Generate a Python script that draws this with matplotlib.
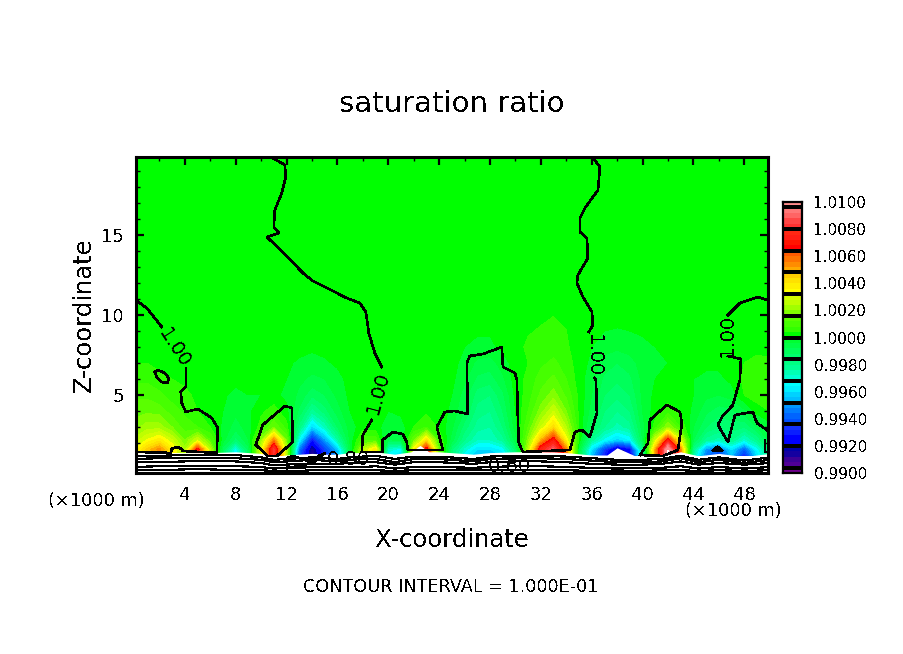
import numpy as np
import matplotlib
matplotlib.use("Agg")
import matplotlib.pyplot as plt
from matplotlib.colors import ListedColormap, BoundaryNorm

"""
Saturation ratio cross section with a terrain-following contour band
"""

plt.rcParams['font.family'] = ['DejaVu Sans']
plt.rcParams['text.antialiased'] = False

TITLE = "saturation ratio"
X_LABEL = "X-coordinate"
Z_LABEL = "Z-coordinate"
FOOTER = "CONTOUR INTERVAL = 1.000E-01"
UNIT_LABEL = "(\u00d71000 m)"

X_TICKS = [4, 8, 12, 16, 20, 24, 28, 32, 36, 40, 44, 48]
Z_TICKS = [5, 10, 15]
BAR_TICKS = [0.9900, 0.9920, 0.9940, 0.9960, 0.9980, 1.0000,
             1.0020, 1.0040, 1.0060, 1.0080, 1.0100]

FIELD_X = list(range(51))
FIELD_Z = [1.2, 1.6, 2.2, 3, 4, 5, 6, 7, 8, 10, 20]
row_z12 = [28, 40, 50, 36, 20, 58, 24, -10, -40, -10, 30, 80, 25, -60, -90, -70, -50, -5, 28, 38, -35, -40, 35, 75, 15,
           -15, -35, -45, -45, -40, -18, 25, 76, 92, 58, -5, -45, -70, -90, -80, -25, 50, 105, 58, -25, -55, -65, -45,
           -70, -40, -18]
row_z16 = [32, 45, 54, 38, 22, 70, 25, -10, -35, -10, 30, 82, 25, -55, -88, -65, -45, -5, 25, 40, -30, -35, 35, 72, 15,
           -15, -30, -40, -40, -35, -15, 25, 74, 90, 55, -5, -40, -65, -85, -75, -20, 50, 105, 55, -20, -50, -60, -40,
           -60, -35, -15]
row_z22 = [25, 32, 38, 28, 16, 28, 12, -2, -14, -4, 20, 55, 16, -35, -72, -50, -25, -3, 10, 10, -8, -6, 15, 40, 8,
           -6, -20, -28, -28, -22, -6, 18, 48, 70, 35, 3, -22, -34, -42, -36, -8, 28, 70, 30, -8, -22, -26, -20,
           -30, -20, -6]
row_z30 = [18, 22, 22, 16, 10, 8, 4, -1, -6, -2, 6, 16, 6, -18, -42, -28, -12, -2, 2, 2, -3, -2, 4, 8, 3,
           -3, -14, -22, -24, -16, -2, 12, 28, 42, 24, 4, -10, -20, -26, -22, -6, 6, 20, 8, -4, -12, -16, -14,
           -16, -8, -2]
row_z40 = [14, 15, 14, 10, 7, 4, 2, 0, -3, -1, 3, 6, 1, -9, -22, -14, -6, 0, 2, 2, 0, 1, 2, 3, 2,
           -1, -8, -18, -20, -12, 0, 8, 18, 28, 16, 3, -6, -16, -20, -16, -4, 2, 6, 3, -1, -7, -10, -9,
           -5, 2, 4]
row_z50 = [11, 11, 9, 6, 5, 3, 2, 1, -2, 0, 0, 1, -1, -5, -11, -8, -3, 1, 2, 2, 2, 2, 2, 2, 1,
           0, -6, -14, -16, -9, 1, 6, 13, 18, 11, 3, -4, -12, -15, -12, -3, 1, 2, 2, 0, -3, -4, -2,
           4, 6, 7]
row_z60 = [7, 7, 5, 4, 3, 2, 2, 2, 2, 2, 2, 1, 0, -3, -5, -4, -2, 2, 2, 2, 2, 2, 2, 2, 1,
           1, -3, -9, -10, -5, 2, 5, 10, 13, 8, 2, -3, -9, -11, -9, -3, 0, 1, 1, 0, -1, -1, 1,
           5, 7, 7]
row_z70 = [4, 4, 3, 3, 2, 2, 2, 2, 2, 2, 2, 2, 1, -1, -2, -1, 1, 2, 2, 2, 2, 2, 2, 2, 2,
           1, -1, -5, -6, -2, 2, 4, 7, 9, 6, 2, -1, -6, -8, -6, -2, -1, 0, 1, 1, 1, 1, 2,
           4, 5, 5]
row_z80 = [2, 2, 2, 2, 2, 2, 2, 2, 2, 2, 2, 2, 2, 2, 1, 2, 2, 2, 2, 2, 2, 2, 2, 2, 2,
           2, 0, -1, -1, 1, 3, 4.5, 5, 6, 4.6, 2, 0, -2, -3, -2, -1, 0, 1, 2, 2, 2, 2, 2,
           2, 3, 2]
row_z100 = [2, 2, 2, 2, 2, 2, 2, 2, 2, 2, 2, 2, 2, 2, 2, 2, 2, 2, 2, 2, 2, 2, 2, 2, 2,
            2, 2, 2, 2, 2, 2, 3, 3.5, 3.9, 3.5, 2, 2, 2, 2, 2, 2, 2, 2, 2, 2, 2, 2, 2,
            2, 2, 2]
row_z200 = [2, 2, 2, 2, 2, 2, 2, 2, 2, 2, 2, 2, 2, 2, 2, 2, 2, 2, 2, 2, 2, 2, 2, 2, 2,
            2, 2, 2, 2, 2, 2, 2, 2, 2, 2, 2, 2, 2, 2, 2, 2, 2, 2, 2, 2, 2, 2, 2,
            2, 2, 2]

# top of the below-range (white) area
SURFACE_X = [0, 2, 4, 6, 8, 10, 11, 12, 13, 14, 15, 16, 17, 18, 19, 20.5, 21.8, 22.5, 23.2, 24, 26.7, 28, 30, 32, 34,
             36, 37.2, 38, 39.4, 40, 41.5, 43, 44.4, 46, 48, 50]
SURFACE_Z = [1.4, 1.4, 1.4, 1.4, 1.45, 1.35, 1.15, 1.25, 1.3, 1.35, 1.3, 1.3, 1.4, 1.4, 1.45, 1.3, 1.45, 1.85, 1.45,
             1.45, 1.3, 1.4, 1.45, 1.45, 1.4, 1.25, 1.25, 1.7, 1.2, 1.2, 1.2, 1.45, 1.2, 1.35, 1.15, 1.35]

# terrain-following contours of 0.9 and below
TERRAIN_X = [0, 2, 4, 6, 8, 10, 11, 12, 13, 14, 15, 16, 17, 18, 19, 20.5, 22, 24, 26.7, 28, 30, 32, 34, 36, 38, 40,
             41.5, 43, 44.4, 46, 48, 50]
terrain_1 = [1.2, 1.2, 1.25, 1.25, 1.25, 1.1, 0.95, 1.0, 1.05, 1.1, 1.05, 1.0, 1.1, 1.15, 1.2, 1.0, 1.15, 1.15, 1.0,
             1.15, 1.2, 1.2, 1.15, 1.05, 0.95, 0.95, 1.0, 1.2, 0.95, 1.1, 0.9, 1.1]
terrain_2 = [1.0, 1.05, 1.05, 1.05, 1.05, 0.95, 0.8, 0.85, 0.9, 0.95, 0.9, 0.85, 0.95, 1.0, 1.0, 0.8, 1.0, 1.0, 0.85,
             1.0, 1.05, 1.05, 1.0, 0.9, 0.8, 0.8, 0.85, 1.05, 0.8, 0.95, 0.75, 0.95]
terrain_3 = [0.8, 0.8, 0.85, 0.85, 0.85, 0.75, 0.6, 0.65, 0.7, 0.7, 0.7, 0.7, 0.75, 0.8, 0.8, 0.65, 0.8, 0.8, 0.7,
             0.8, 0.85, 0.85, 0.8, 0.7, 0.65, 0.65, 0.7, 0.85, 0.65, 0.75, 0.65, 0.75]
terrain_4 = [0.5, 0.55, 0.55, 0.55, 0.55, 0.5, 0.4, 0.45, 0.45, 0.5, 0.5, 0.5, 0.5, 0.5, 0.55, 0.4, 0.5, 0.5, 0.45,
             0.5, 0.55, 0.55, 0.5, 0.45, 0.4, 0.45, 0.45, 0.55, 0.4, 0.5, 0.4, 0.5]
terrain_5 = [0.3, 0.3, 0.35, 0.35, 0.3, 0.3, 0.25, 0.25, 0.25, 0.3, 0.3, 0.3, 0.3, 0.3, 0.3, 0.25, 0.3, 0.3, 0.3,
             0.3, 0.3, 0.3, 0.3, 0.25, 0.25, 0.25, 0.3, 0.3, 0.25, 0.3, 0.25, 0.3]

# the wiggly closed patch near x=12..15 in the terrain band
patch_x = [15, 14.6, 13.8, 13.05, 12.5, 12.02, 12.02, 12.0, 13.44, 14.2, 15]
patch_z = [1.3, 1.25, 0.81, 1.06, 1.19, 1.06, 0.31, 0.44, 0.63, 0.8, 1.37]

# 1.00 contour, one pair of lists per piece, gaps are where the labels sit
left_top_x = [0.22, 1.0, 2.19]
left_top_z = [10.88, 10.44, 9.25]
left_low_x = [4.08, 4.08, 3.68, 3.76, 4.08, 5.02, 6.12, 6.59, 6.51, 3.84, 3.76, 3.37, 2.97, 2.9, 0.22]
left_low_z = [6.69, 5.5, 5.19, 4.5, 3.94, 4.13, 3.56, 2.94, 1.38, 1.5, 1.63, 1.75, 1.63, 1.38, 1.44]
oval_x = [1.64, 1.87, 2.42, 2.74, 2.66, 2.19, 1.79, 1.64]
oval_z = [6.44, 6.56, 6.38, 6.06, 5.75, 5.81, 6.13, 6.44]
top_edge_x = [0.46, 3.5, 7.0, 10.92]
top_edge_z = [19.84, 19.8, 19.84, 19.81]
mid_top_x = [10.92, 11.87, 11.94, 11.63, 11.08, 11.0, 11.4, 10.45, 11.71, 13.28, 14.07, 16.74, 17.76, 18.24, 18.47,
             18.94, 19.49]
mid_top_z = [19.81, 19.38, 18.63, 17.63, 16.56, 15.5, 15.13, 14.88, 13.94, 12.63, 12.13, 11.06, 10.75, 10.19, 8.88,
             7.63, 6.75]
mid_low_x = [18.71, 18.0, 17.92, 19.57, 19.57, 20.36, 21.15, 21.46, 21.54, 24.3, 23.82, 24.45, 25.24, 26.26, 26.18,
             26.42, 27.44, 28.94, 29.02, 29.96, 30.12, 30.2, 30.27, 30.59, 34.29, 34.68, 35.23, 35.86, 36.41, 36.34,
             36.2]
mid_low_z = [3.44, 2.5, 1.44, 1.44, 2.19, 2.69, 2.56, 2.06, 1.56, 1.56, 3.0, 3.94, 4.0, 3.81, 7.0,
             7.44, 7.56, 8.0, 6.75, 6.38, 5.94, 3.44, 2.0, 1.44, 1.56, 2.69, 2.81, 2.38, 3.88, 5.94,
             6.06]
east_top_x = [35.47, 36.1, 36.65, 36.5, 35.47, 35.08, 35.08, 35.63, 35.7, 34.92, 34.84, 35.31, 36.02, 36.1, 35.78]
east_top_z = [19.88, 19.81, 19.25, 17.81, 16.69, 16.06, 15.19, 14.81, 13.56, 12.5, 12.0, 11.13, 10.19, 9.38, 8.94]
cell_11_x = [9.58, 10.13, 11.87, 12.42, 12.49, 11.24, 10.53, 9.58]
cell_11_z = [1.88, 3.13, 4.31, 4.19, 2.06, 1.19, 1.19, 1.88]
cell_41_x = [39.8, 40.43, 40.58, 41.92, 42.94, 43.1, 42.79, 41.6, 39.8]
cell_41_z = [1.25, 2.0, 3.44, 4.38, 3.94, 3.25, 1.56, 1.19, 1.25]
right_top_x = [49.78, 49.08, 47.66, 46.72]
right_top_z = [10.94, 11.13, 10.75, 10.0]
right_low_x = [46.72, 47.74, 47.66, 47.11, 46.25, 45.93, 46.72, 47.03, 47.27, 48.68, 49.0, 49.78]
right_low_z = [7.44, 7.25, 5.94, 4.38, 3.63, 3.13, 2.06, 3.0, 3.75, 3.94, 3.25, 2.81]
edge_x = [49.6, 49.6, 49.85]
edge_z = [2.19, 1.44, 1.44]
blob_x = [45.5, 45.9, 46.3, 45.5]
blob_z = [1.5, 1.78, 1.5, 1.5]

# colour table, 0.0004 per band, black separators every 4 bands
BAND_BOTTOM = ['#6e008c']
BAND_GROUPS = [
    ['#500096', '#3c0096', '#1400a0', '#0000aa'],
    ['#0000ff', '#0000ff', '#0a1eff', '#1432ff'],
    ['#0050ff', '#0064ff', '#007dff', '#0096ff'],
    ['#00beff', '#00d2ff', '#00f0ff', '#00ffff'],
    ['#00ffd2', '#00ffb4', '#00ff96', '#00ff82'],
    ['#00ff6e', '#00ff5a', '#00ff46', '#00ff32'],
    ['#00ff00', '#32ff00', '#46ff00', '#5aff00'],
    ['#82ff00', '#a0ff00', '#beff00', '#d2ff00'],
    ['#ffff00', '#fff000', '#ffe100', '#ffcd00'],
    ['#ffaa00', '#ff8c00', '#ff7300', '#ff5a00'],
    ['#ff0000', '#ff1400', '#ff1e14', '#ff2814'],
    ['#ff3232', '#ff4646', '#ff6464', '#ff7878'],
]
BAND_TOP = ['#ff8c8c']


def draw_field(ax, levels, cmap, norm):
    rows = np.array([row_z12, row_z16, row_z22, row_z30, row_z40, row_z50, row_z60, row_z70, row_z80, row_z100,
                     row_z200])
    ratio = 1.0 + rows / 1e4
    ax.contourf(FIELD_X, FIELD_Z, ratio, levels=levels, cmap=cmap, norm=norm)
    ax.fill_between(SURFACE_X, 0, SURFACE_Z, color='white', lw=0, zorder=2, antialiased=False)


def draw_contours(ax):
    pieces = [(left_top_x, left_top_z), (left_low_x, left_low_z), (oval_x, oval_z), (top_edge_x, top_edge_z),
              (mid_top_x, mid_top_z), (mid_low_x, mid_low_z), (east_top_x, east_top_z), (cell_11_x, cell_11_z),
              (cell_41_x, cell_41_z), (right_top_x, right_top_z), (right_low_x, right_low_z), (edge_x, edge_z)]
    for px, pz in pieces:
        ax.plot(px, pz, color='black', lw=1.15, zorder=3, antialiased=False)
    ax.fill(blob_x, blob_z, color='black', zorder=3, antialiased=False)
    ax.plot(patch_x, patch_z, color='black', lw=0.9, zorder=3, antialiased=False)
    for line in [terrain_1, terrain_2, terrain_3, terrain_4, terrain_5]:
        ax.plot(TERRAIN_X, line, color='black', lw=0.85, zorder=3, antialiased=False)

    label_size = 14
    ax.text(3.2, 7.94, "1.00", rotation=-57, fontsize=label_size, ha='center', va='center', zorder=4)
    ax.text(19.18, 5.13, "1.00", rotation=75, fontsize=label_size, ha='center', va='center', zorder=4)
    ax.text(36.1, 7.44, "1.00", rotation=-90, fontsize=label_size, ha='center', va='center', zorder=4)
    ax.text(46.64, 8.75, "1.00", rotation=90, fontsize=label_size, ha='center', va='center', zorder=4)
    ax.text(16.83, 0.94, "0.80", fontsize=label_size, ha='center', va='center', zorder=4)
    ax.text(29.5, 0.5, "0.60", fontsize=label_size, ha='center', va='center', zorder=4)


def style_axes(ax):
    ax.set_xlim(0.2, 49.87)
    ax.set_ylim(0.125, 19.875)
    ax.set_xticks(X_TICKS)
    ax.set_xticks(np.arange(2, 50, 4), minor=True)
    ax.set_yticks(Z_TICKS)
    ax.set_yticks([z for z in range(1, 20) if z not in Z_TICKS], minor=True)
    ax.tick_params(which='major', direction='in', length=6, width=1.6, top=True, right=True,
                   labelsize=13, pad=9)
    ax.tick_params(which='minor', direction='in', length=3, width=1, top=True, right=True)
    for spine in ax.spines.values():
        spine.set_linewidth(2.2)
        spine.set_zorder(5)


def draw_colorbar(fig, levels, cmap, norm):
    cax = fig.add_axes([783.5 / 904, 1 - 473 / 654, 19 / 904, 271 / 654])
    mids = (np.array(levels[:-1]) + np.array(levels[1:])) / 2
    cax.pcolormesh([0, 1], levels, mids.reshape(-1, 1), cmap=cmap, norm=norm)
    cax.hlines(levels[1::4], 0, 1, color='black', lw=1.6, antialiased=False)
    cax.set_xlim(0, 1)
    cax.set_ylim(levels[0], levels[-1])
    cax.set_xticks([])
    cax.yaxis.tick_right()
    cax.set_yticks(BAR_TICKS)
    cax.set_yticklabels([f'{v:.4f}' for v in BAR_TICKS])
    cax.tick_params(axis='y', length=0, labelsize=11, pad=8)
    for spine in cax.spines.values():
        spine.set_linewidth(1.6)


def main():
    colors = BAND_BOTTOM + [c for group in BAND_GROUPS for c in group] + BAND_TOP
    levels = [0.99 + 0.0004 * i for i in range(len(colors) + 1)]
    cmap = ListedColormap(colors)
    norm = BoundaryNorm(levels, cmap.N)

    fig = plt.figure(figsize=(9.04, 6.54), dpi=100)
    ax = fig.add_axes([136.5 / 904, 1 - 473 / 654, 631.5 / 904, 316 / 654])

    draw_field(ax, levels, cmap, norm)
    draw_contours(ax)
    style_axes(ax)
    draw_colorbar(fig, levels, cmap, norm)

    fig.text(452 / 904, 1 - 104 / 654, TITLE, fontsize=21, ha='center', va='center')
    fig.text(452 / 904, 1 - 540 / 654, X_LABEL, fontsize=17.5, ha='center', va='center')
    fig.text(84 / 904, 1 - 315 / 654, Z_LABEL, fontsize=17.5, rotation=90, ha='center', va='center')
    fig.text(96 / 904, 1 - 501 / 654, UNIT_LABEL, fontsize=12.8, ha='center', va='center')
    fig.text(733 / 904, 1 - 511 / 654, UNIT_LABEL, fontsize=12.8, ha='center', va='center')
    fig.text(451 / 904, 1 - 587 / 654, FOOTER, fontsize=12.7, ha='center', va='center')

    fig.savefig('out.png', dpi=100)


if __name__ == "__main__":
    main()
